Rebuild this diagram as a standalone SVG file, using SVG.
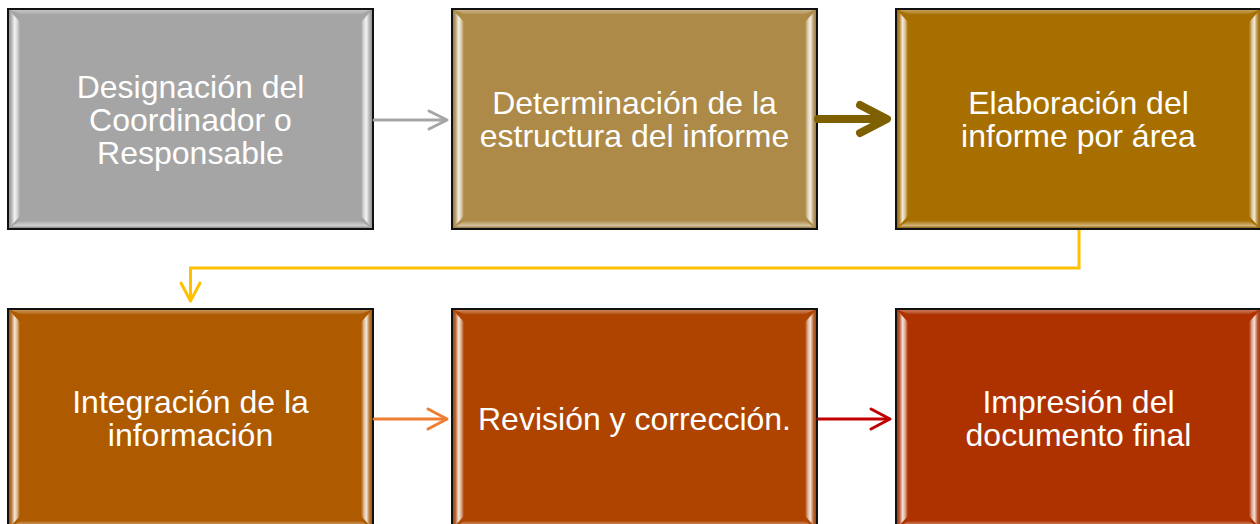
<svg xmlns="http://www.w3.org/2000/svg" xmlns:xlink="http://www.w3.org/1999/xlink" width="1260" height="524" viewBox="0 0 1260 524">
<style>
.lbl{font-family:"Liberation Sans",Arial,sans-serif;font-size:32px;fill:#fff;text-anchor:middle}
.border{fill:none;stroke:#111;stroke-width:2}
.conn{fill:none;stroke-width:3;stroke-linecap:round;stroke-linejoin:round}
</style>
<defs>
<linearGradient id="gL" x1="0" y1="0" x2="1" y2="0">
<stop offset="0" stop-color="#000" stop-opacity="0.2"/>
<stop offset="0.3" stop-color="#fff" stop-opacity="0.2"/>
<stop offset="0.55" stop-color="#fff" stop-opacity="0.85"/>
<stop offset="0.75" stop-color="#fff" stop-opacity="0.6"/>
<stop offset="1" stop-color="#fff" stop-opacity="0"/>
</linearGradient>
<linearGradient id="gR" x1="1" y1="0" x2="0" y2="0">
<stop offset="0" stop-color="#000" stop-opacity="0.2"/>
<stop offset="0.3" stop-color="#fff" stop-opacity="0.2"/>
<stop offset="0.55" stop-color="#fff" stop-opacity="0.85"/>
<stop offset="0.75" stop-color="#fff" stop-opacity="0.6"/>
<stop offset="1" stop-color="#fff" stop-opacity="0"/>
</linearGradient>
<linearGradient id="gT" x1="0" y1="0" x2="0" y2="1">
<stop offset="0" stop-color="#fff" stop-opacity="0.4"/>
<stop offset="1" stop-color="#fff" stop-opacity="0.1"/>
</linearGradient>
<linearGradient id="gB" x1="0" y1="0" x2="0" y2="1">
<stop offset="0" stop-color="#fff" stop-opacity="0.05"/>
<stop offset="0.6" stop-color="#fff" stop-opacity="0.5"/>
<stop offset="1" stop-color="#000" stop-opacity="0.15"/>
</linearGradient>
<g id="bevel">
<polygon points="0,0 365,0 353,5 12,5" fill="url(#gT)"/>
<polygon points="0,220 365,220 353,212 12,212" fill="url(#gB)"/>
<polygon points="0,0 12,13 12,207 0,220" fill="url(#gL)"/>
<polygon points="365,0 353,13 353,207 365,220" fill="url(#gR)"/>
</g>
</defs>

<g id="n1">
<rect x="8" y="9" width="365" height="220" fill="#A5A5A5"/>
<use xlink:href="#bevel" x="8" y="9"/>
<rect class="border" x="8" y="9" width="365" height="220"/>
<text class="lbl" x="190.5" y="98">Designación del</text>
<text class="lbl" x="190.5" y="131">Coordinador o</text>
<text class="lbl" x="190.5" y="164">Responsable</text>
</g>
<g id="n2">
<rect x="452" y="9" width="365" height="220" fill="#AD8A47"/>
<use xlink:href="#bevel" x="452" y="9"/>
<rect class="border" x="452" y="9" width="365" height="220"/>
<text class="lbl" x="634.5" y="114">Determinación de la</text>
<text class="lbl" x="634.5" y="147">estructura del informe</text>
</g>
<g id="n3">
<rect x="896" y="9" width="365" height="220" fill="#A76F00"/>
<use xlink:href="#bevel" x="896" y="9"/>
<rect class="border" x="896" y="9" width="365" height="220"/>
<text class="lbl" x="1078.5" y="114">Elaboración del</text>
<text class="lbl" x="1078.5" y="147">informe por área</text>
</g>
<g id="n4">
<rect x="8" y="309" width="365" height="220" fill="#AD5A00"/>
<use xlink:href="#bevel" x="8" y="309"/>
<rect class="border" x="8" y="309" width="365" height="220"/>
<text class="lbl" x="190.5" y="413">Integración de la</text>
<text class="lbl" x="190.5" y="446">información</text>
</g>
<g id="n5">
<rect x="452" y="309" width="365" height="220" fill="#AE4400"/>
<use xlink:href="#bevel" x="452" y="309"/>
<rect class="border" x="452" y="309" width="365" height="220"/>
<text class="lbl" x="634.5" y="430">Revisión y corrección.</text>
</g>
<g id="n6">
<rect x="896" y="309" width="365" height="220" fill="#AE3200"/>
<use xlink:href="#bevel" x="896" y="309"/>
<rect class="border" x="896" y="309" width="365" height="220"/>
<text class="lbl" x="1078.5" y="413">Impresión del</text>
<text class="lbl" x="1078.5" y="446">documento final</text>
</g>

<g id="connectors">
<g stroke="#A5A5A5" class="conn">
<path d="M374,120 H446"/>
<path d="M429,111 L447,120 L429,129"/>
</g>
<g stroke="#7F6000" class="conn" style="stroke-width:8">
<path d="M818,119 H884"/>
<path d="M860,105 L887,119 L860,133"/>
</g>
<g stroke="#FFC000" class="conn">
<path d="M1079,230 V268 H190.5 V300" stroke-linecap="butt" stroke-linejoin="miter"/>
<path d="M181,283 L190.5,301 L200,283"/>
</g>
<g stroke="#ED7D31" class="conn">
<path d="M374,419 H446"/>
<path d="M428,409 L447,419 L428,429"/>
</g>
<g stroke="#C00000" class="conn">
<path d="M818,419 H889"/>
<path d="M871,409 L890,419 L871,429"/>
</g>
</g>
</svg>
